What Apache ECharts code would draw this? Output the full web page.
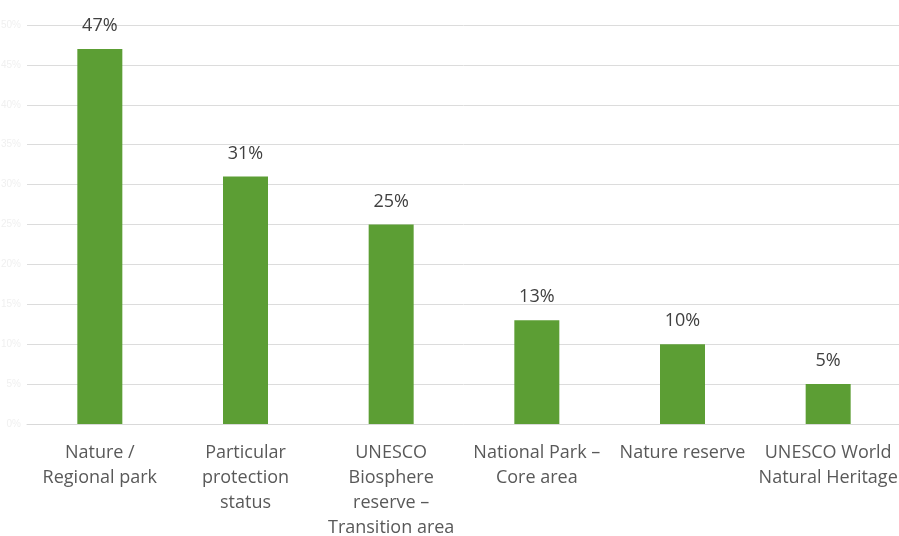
<!DOCTYPE html>
<html>
<head>
<meta charset="utf-8">
<script src="https://cdn.jsdelivr.net/npm/echarts@6/dist/echarts.min.js"></script>
<style>
  html, body { margin: 0; padding: 0; background: #fff; }
  #chart { width: 899px; height: 536px; }
</style>
</head>
<body>
<div id="chart"></div>
<script>
// categories and shares (percent)
const categories = [
  'Nature /\nRegional park',
  'Particular\nprotection\nstatus',
  'UNESCO\nBiosphere\nreserve –\nTransition area',
  'National Park –\nCore area',
  'Nature reserve',
  'UNESCO World\nNatural Heritage'
];
const shares = [47, 31, 25, 13, 10, 5];
const yTicks = { min: 0, max: 50, interval: 5 };

const chart = echarts.init(document.getElementById('chart'));

chart.setOption({
  animation: false,
  grid: { left: 27, right: -2, top: 25, bottom: 112, outerBoundsMode: 'none' },
  xAxis: {
    type: 'category',
    data: categories,
    axisLine: { lineStyle: { color: '#d9d9d9' } },
    axisTick: { show: false },
    axisLabel: {
      interval: 0,
      margin: 16,
      color: '#595959',
      fontFamily: 'Open Sans',
      fontSize: 18,
      lineHeight: 25
    }
  },
  yAxis: {
    type: 'value',
    min: yTicks.min,
    max: yTicks.max,
    interval: yTicks.interval,
    axisLine: { show: false },
    axisTick: { show: false },
    splitLine: { lineStyle: { color: '#dcdcdc', width: 1 } },
    axisLabel: {
      formatter: '{value}%',
      color: '#f0f0f0',
      fontSize: 10,
      margin: 6
    }
  },
  series: [{
    type: 'bar',
    data: shares,
    barWidth: 45,
    itemStyle: { color: '#5c9e34' },
    label: {
      show: true,
      position: 'top',
      distance: 14,
      formatter: '{c}%',
      color: '#404040',
      fontFamily: 'Open Sans',
      fontSize: 18
    }
  }]
});
</script>
</body>
</html>
